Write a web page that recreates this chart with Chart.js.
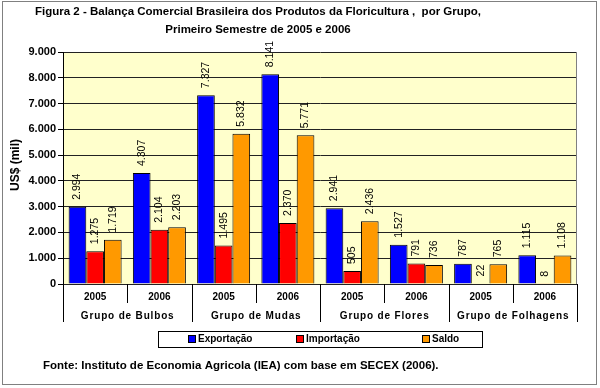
<!DOCTYPE html>
<html>
<head>
<meta charset="utf-8">
<script src="https://cdn.jsdelivr.net/npm/chart.js@4"></script>
<style>
  html, body { margin: 0; padding: 0; background: #fff; }
  #wrap { width: 600px; height: 388px; }
</style>
</head>
<body>
<div id="wrap"><canvas id="chart" width="600" height="388"></canvas></div>
<script>
const years = ["2005", "2006", "2005", "2006", "2005", "2006", "2005", "2006"];
const groups = ["Grupo de Bulbos", "Grupo de Mudas", "Grupo de Flores", "Grupo de Folhagens"];
const exportacao = [2994, 4307, 7327, 8141, 2941, 1527, 787, 1115];
const importacao = [1275, 2104, 1495, 2370, 505, 791, 22, 8];
const saldo = [1719, 2203, 5832, 5771, 2436, 736, 765, 1108];
const yTicks = [0, 1000, 2000, 3000, 4000, 5000, 6000, 7000, 8000, 9000];

const titleLines = [
  "Figura 2 - Balança Comercial Brasileira dos Produtos da Floricultura ,  por Grupo,",
  "Primeiro Semestre de 2005 e 2006"
];
const fonte = "Fonte: Instituto de Economia Agricola (IEA) com base em SECEX (2006).";

function fmt(v) {
  return v.toString().replace(/\B(?=(\d{3})+(?!\d))/g, ".");
}

const decor = {
  id: "decor",
  beforeDraw(chart) {
    const ctx = chart.ctx;
    const a = chart.chartArea;
    ctx.save();
    ctx.fillStyle = "#fff";
    ctx.fillRect(0, 0, chart.width, chart.height);
    ctx.strokeStyle = "#808080";
    ctx.lineWidth = 1;
    ctx.strokeRect(2.5, 1.5, 594, 383);
    ctx.fillStyle = "#FFFFCC";
    ctx.fillRect(a.left, a.top, a.right - a.left, a.bottom - a.top);
    ctx.restore();
  },
  afterDatasetsDraw(chart) {
    const ctx = chart.ctx;
    const a = chart.chartArea;
    ctx.save();
    // plot border on the right
    ctx.strokeStyle = "#808080";
    ctx.beginPath();
    ctx.moveTo(a.right - 0.5, a.top);
    ctx.lineTo(a.right - 0.5, a.bottom);
    ctx.stroke();
    // value labels
    ctx.fillStyle = "#000";
    ctx.font = "10.5px 'Liberation Sans', Arial, sans-serif";
    ctx.textAlign = "left";
    ctx.textBaseline = "middle";
    chart.data.datasets.forEach((ds, i) => {
      chart.getDatasetMeta(i).data.forEach((bar, j) => {
        ctx.save();
        ctx.translate(bar.x, bar.y - 7);
        ctx.rotate(-Math.PI / 2);
        ctx.fillText(fmt(ds.data[j]), 0, 0);
        ctx.restore();
      });
    });
    ctx.restore();
  },
  afterDraw(chart) {
    const ctx = chart.ctx;
    const a = chart.chartArea;
    const xs = chart.scales.x;
    const n = years.length;
    const w = (a.right - a.left) / n;
    ctx.save();
    ctx.fillStyle = "#000";
    ctx.strokeStyle = "#000";
    ctx.lineWidth = 1;

    // title
    ctx.font = "bold 11.5px 'Liberation Sans', Arial, sans-serif";
    ctx.textAlign = "center";
    ctx.textBaseline = "middle";
    ctx.fillText(titleLines[0], 258, 12);
    ctx.fillText(titleLines[1], 258, 30);

    // y axis title
    ctx.font = "bold 12px 'Liberation Sans', Arial, sans-serif";
    ctx.save();
    ctx.translate(16, 165);
    ctx.rotate(-Math.PI / 2);
    ctx.fillText("US$ (mil)", 0, 0);
    ctx.restore();

    // category axis: years + groups
    ctx.font = "bold 10px 'Liberation Sans', Arial, sans-serif";
    for (let i = 0; i < n; i++) {
      ctx.fillText(years[i], xs.getPixelForValue(i), 297);
    }
    for (let i = 0; i <= n; i++) {
      const x = Math.round(a.left + i * w) + 0.5;
      ctx.beginPath();
      ctx.moveTo(x, a.bottom);
      ctx.lineTo(x, i % 2 === 0 ? 322 : 303);
      ctx.stroke();
    }
    groups.forEach((g, k) => {
      const x = a.left + (k * 2 + 1) * w;
      ctx.fillText(g.split("").join(String.fromCharCode(8202)), x, 316);
    });

    // legend
    ctx.fillStyle = "#fff";
    ctx.fillRect(158, 331, 324, 16);
    ctx.strokeRect(158.5, 331.5, 324, 16);
    const lx = [188, 296, 422];
    ctx.textAlign = "left";
    chart.data.datasets.forEach((ds, i) => {
      ctx.fillStyle = ds.backgroundColor;
      ctx.fillRect(lx[i], 335, 8, 8);
      ctx.strokeRect(lx[i] + 0.5, 335.5, 7, 7);
      ctx.fillStyle = "#000";
      ctx.fillText(ds.label, lx[i] + 10, 339.5);
    });

    // source
    ctx.font = "bold 11.5px 'Liberation Sans', Arial, sans-serif";
    ctx.fillText(fonte, 43, 366);
    ctx.restore();
  }
};

new Chart(document.getElementById("chart"), {
  type: "bar",
  data: {
    labels: years,
    datasets: [
      {
        label: "Exportação",
        data: exportacao,
        backgroundColor: "#0000FF",
        borderColor: "#000",
        borderWidth: 1,
      },
      {
        label: "Importação",
        data: importacao,
        backgroundColor: "#FF0000",
        borderColor: "#000",
        borderWidth: 1,
      },
      {
        label: "Saldo",
        data: saldo,
        backgroundColor: "#FF9900",
        borderColor: "#000",
        borderWidth: 1,
      },
    ],
  },
  options: {
    responsive: false,
    animation: false,
    layout: { padding: { top: 52, right: 23, bottom: 104, left: 0 } },
    datasets: { bar: { categoryPercentage: 0.825, barPercentage: 1 } },
    plugins: { legend: { display: false }, tooltip: { enabled: false } },
    scales: {
      x: { display: false },
      y: {
        min: 0,
        max: 9000,
        afterFit: (scale) => { scale.width = 63; },
        afterBuildTicks: (scale) => { scale.ticks = yTicks.map((v) => ({ value: v })); },
        ticks: {
          color: "#000",
          padding: 2,
          font: { family: "'Liberation Sans', Arial, sans-serif", size: 11, weight: "bold" },
          callback: (v) => fmt(v),
        },
        grid: { color: "#222", tickLength: 5, tickColor: "#000" },
        border: { color: "#000" },
      },
    },
  },
  plugins: [decor],
});
</script>
</body>
</html>
